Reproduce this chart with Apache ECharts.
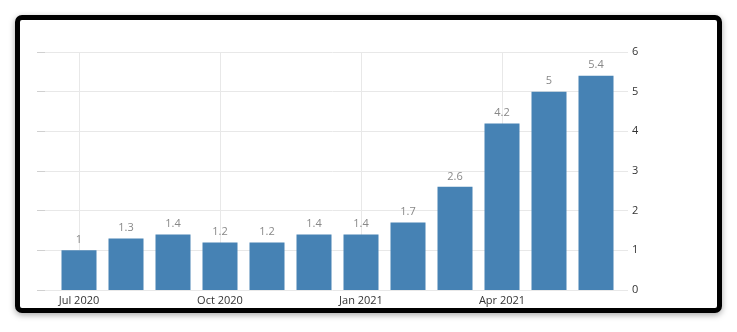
<!DOCTYPE html>
<html>
<head>
<meta charset="utf-8">
<script src="https://cdn.jsdelivr.net/npm/echarts@6/dist/echarts.min.js"></script>
<style>
  html, body { margin: 0; padding: 0; background: #fff; }
  #wrap { position: relative; width: 737px; height: 332px; overflow: hidden; }
  #frame { position: absolute; left: 15px; top: 15px; width: 697px; height: 288px;
    border: 5px solid #000; border-radius: 7px; background: #fff;
    box-shadow: 0 2px 6px rgba(0,0,0,0.35); }
  #chart { position: absolute; left: 0; top: 0; width: 737px; height: 332px; }
</style>
</head>
<body>
<div id="wrap">
  <div id="frame"></div>
  <div id="chart"></div>
</div>
<script>
const categories = ['Jul 2020','Aug 2020','Sep 2020','Oct 2020','Nov 2020','Dec 2020','Jan 2021','Feb 2021','Mar 2021','Apr 2021','May 2021','Jun 2021'];
const values = [1, 1.3, 1.4, 1.2, 1.2, 1.4, 1.4, 1.7, 2.6, 4.2, 5, 5.4];
const labelledMonths = ['Jul 2020', 'Oct 2020', 'Jan 2021', 'Apr 2021'];
const yTicks = [0, 1, 2, 3, 4, 5, 6];

const chart = echarts.init(document.getElementById('chart'), null, {renderer: 'canvas'});
const font = "'Open Sans', 'DejaVu Sans', sans-serif";
chart.setOption({
  backgroundColor: 'transparent',
  animation: false,
  grid: [
    {left: 55.5, right: 117.5, top: 52, bottom: 42},
    {left: 37, right: 109, top: 52, bottom: 42}
  ],
  xAxis: [
    {
      type: 'category', gridIndex: 0, data: categories,
      axisLine: {show: false},
      axisTick: {show: false},
      splitLine: {show: false},
      axisLabel: {
        interval: 0, color: '#333', fontSize: 11, fontFamily: font, margin: 5,
        formatter: v => labelledMonths.indexOf(v) >= 0 ? v : ''
      }
    },
    {type: 'value', gridIndex: 1, min: 0, max: 1, show: false}
  ],
  yAxis: [
    {type: 'value', gridIndex: 0, min: yTicks[0], max: yTicks[yTicks.length-1], interval: 1, show: false},
    {
      type: 'value', gridIndex: 1, position: 'right',
      min: yTicks[0], max: yTicks[yTicks.length-1], interval: 1,
      axisLine: {show: false},
      axisTick: {show: true, length: 8, lineStyle: {color: '#d0d0d0'}},
      splitLine: {show: true, lineStyle: {color: '#e8e8e8', width: 1}},
      axisLabel: {color: '#333', fontSize: 11, fontFamily: font, margin: 4}
    }
  ],
  series: [{
    type: 'bar', xAxisIndex: 0, yAxisIndex: 0,
    data: values, barWidth: 35,
    itemStyle: {color: '#4682b4'},
    label: {show: true, position: 'top', distance: 5, color: '#888', fontSize: 11, fontFamily: font},
    markLine: {
      z: 1, silent: true, symbol: 'none', animation: false,
      label: {show: false},
      lineStyle: {color: '#e8e8e8', width: 1, type: 'solid'},
      data: labelledMonths.map(m => ({xAxis: m}))
    }
  }]
});
</script>
</body>
</html>
